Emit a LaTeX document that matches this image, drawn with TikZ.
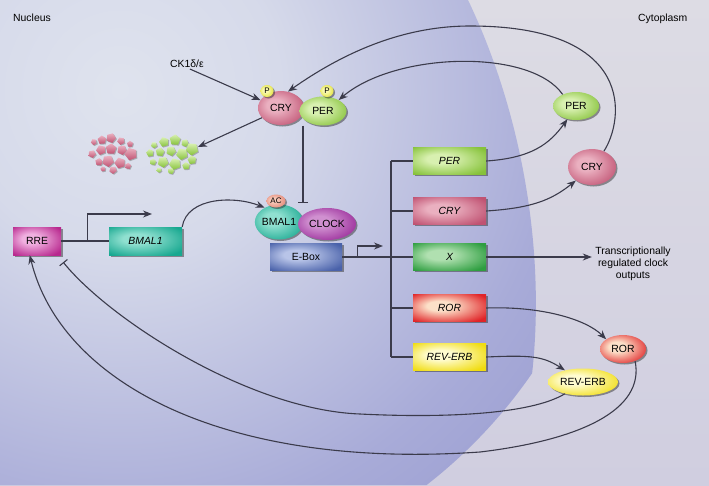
\documentclass[tikz,border=0pt]{standalone}
\usepackage{fontspec}
\setmainfont{Liberation Sans}
\usetikzlibrary{arrows.meta,shapes.geometric,shadows,calc}
\pgfdeclarelayer{bg}
\pgfsetlayers{bg,main}
\newcommand\myfs{\fontsize{10.4}{12.3}\selectfont}
\definecolor{lineC}{HTML}{3B3B4B}
\definecolor{pinkHL}{HTML}{EAB0C0}\definecolor{pinkB}{HTML}{C05272}
\definecolor{greenHL}{HTML}{D8F0B0}\definecolor{greenB}{HTML}{86C23A}
\definecolor{yelHL}{HTML}{FAFAB0}\definecolor{yelB}{HTML}{DEDE30}
\definecolor{acHL}{HTML}{F8C8B8}\definecolor{acB}{HTML}{E08070}
\definecolor{tealHL}{HTML}{90E0D0}\definecolor{tealB}{HTML}{18A890}
\definecolor{purpHL}{HTML}{D090D0}\definecolor{purpB}{HTML}{982898}
\definecolor{blueHL}{HTML}{B8C4E8}\definecolor{blueB}{HTML}{4A62AA}
\definecolor{magHL}{HTML}{F0B0E0}\definecolor{magB}{HTML}{B8288E}
\definecolor{xHL}{HTML}{B0E0B0}\definecolor{xB}{HTML}{2E9E40}
\definecolor{rorHL}{HTML}{FCE0C8}\definecolor{rorB}{HTML}{E02428}
\definecolor{revHL}{HTML}{FFFCD0}\definecolor{revB}{HTML}{F0DC10}
\definecolor{nucA}{HTML}{DFE3EE}\definecolor{nucM}{HTML}{D6DAEA}
\definecolor{nucB}{HTML}{A8ABD8}\definecolor{nucC}{HTML}{A2A5D5}
\definecolor{cytoTop}{HTML}{DDDCE4}\definecolor{cytoBot}{HTML}{D0CEE0}
\pgfdeclareradialshading[hlc,basec]{glossy}{\pgfqpoint{-8bp}{5bp}}{color(0bp)=(hlc); color(9bp)=(hlc); color(33bp)=(basec); color(50bp)=(basec)}
\pgfdeclareradialshading{nucsh}{\pgfpointorigin}{color(0bp)=(nucA); color(8bp)=(nucM); color(22bp)=(nucB); color(25bp)=(nucC); color(50bp)=(nucC)}
\tikzset{
  conn/.style={draw=lineC, line width=1.1pt},
  arr/.style={conn, -{Stealth[length=9pt,width=7pt]}},
  inh/.style={conn, -{Bar[width=10pt,line width=1.1pt]}},
  gl/.style 2 args={shade, shading=glossy, /utils/exec={\colorlet{hlc}{#1}\colorlet{basec}{#2}}},
  shad/.style={drop shadow={shadow xshift=1.5pt, shadow yshift=-1.5pt, fill=black!80, opacity=0.5}},
  gene/.style={rectangle, minimum width=73pt, minimum height=27pt, inner sep=0pt, shad, font=\myfs\itshape},
  prot/.style={ellipse, inner sep=0pt, shad},
  small/.style={font=\fontsize{8}{9}\selectfont},
}
\begin{document}
\begin{tikzpicture}[x=1pt,y=-1pt,font=\myfs]
\useasboundingbox (0,0) rectangle (709,485);
\begin{pgfonlayer}{bg}
  \shade[top color=cytoTop, bottom color=cytoBot] (0,0) rectangle (709,485);
  \begin{scope}
    \clip (0,0) -- (468,0) .. controls (535,140) and (560,330) .. (508,485) -- (0,485) -- cycle;
    \shade[shading=nucsh] (120,90) circle (500);
  \end{scope}
\end{pgfonlayer}

% labels
\node[anchor=base west, inner sep=0pt] (nuc) at (13,21.5) {Nucleus};
\node[anchor=base west, inner sep=0pt] (cyt) at (638,21.5) {Cytoplasm};
\node[inner sep=1pt] (ck) at (187,64) {CK1δ/ε};

% degraded fragments
\begin{scope}[shift={(113,152)}]
\foreach \dx/\dy/\s [count=\i] in {-19/-10/3.2,-11/-12/4.5,-2/-14/5,8/-11/3.9,17/-8/3.2,-21/2/3.9,-12/-2/5,-2/-3/5.6,9/-2/5,18/2/6.5,-14/10/3.9,-5/9/6,7/11/5.6,15/14/3.2,0/18/3.9,-10/17/2.6}{
  \fill[black!60, opacity=.45, shift={(\dx+0.9,\dy+0.9)}, rotate=\i*47] (0:\s) -- (72:\s) -- (144:\s) -- (216:\s) -- (288:\s) -- cycle;
  \shade[top color=pinkHL, bottom color=pinkB, shift={(\dx,\dy)}, rotate=\i*47] (0:\s) -- (72:\s) -- (144:\s) -- (216:\s) -- (288:\s) -- cycle;
}
\end{scope}
\begin{scope}[shift={(171,153)}]
\foreach \dx/\dy/\s [count=\i] in {-17/-8/3.2,-7/-11/5,4/-13/5.6,14/-10/3.9,21/-4/6.5,-21/0/3.9,-11/-1/4.5,0/-2/5,11/1/6,21/7/4.5,-18/9/3.2,-8/9/5.6,4/11/6,15/13/3.9,0/18/3.2,-12/17/2.6}{
  \fill[black!60, opacity=.45, shift={(\dx+0.9,\dy+0.9)}, rotate=\i*53] (0:\s) -- (72:\s) -- (144:\s) -- (216:\s) -- (288:\s) -- cycle;
  \shade[top color=greenHL, bottom color=greenB, shift={(\dx,\dy)}, rotate=\i*53] (0:\s) -- (72:\s) -- (144:\s) -- (216:\s) -- (288:\s) -- cycle;
}
\end{scope}

% nuclear proteins
\node[prot, gl={pinkHL}{pinkB}, minimum width=46pt, minimum height=34pt] (cryc) at (281,108) {CRY};
\node[prot, gl={greenHL}{greenB}, minimum width=47pt, minimum height=29pt] (perc) at (323,111) {PER};
\node[prot, gl={yelHL}{yelB}, minimum width=13pt, minimum height=12pt, small] (p1) at (267,91) {P};
\node[prot, gl={yelHL}{yelB}, minimum width=13pt, minimum height=12pt, small] (p2) at (327,91) {P};
\node[prot, gl={tealHL}{tealB}, minimum width=44pt, minimum height=35pt] (bmal) at (279,222) {BMAL1};
\node[prot, gl={purpHL}{purpB}, minimum width=58pt, minimum height=32pt] (clock) at (327,224) {CLOCK};
\node[prot, gl={acHL}{acB}, minimum width=19pt, minimum height=13pt, small] (ac) at (276,201) {AC};
\node[rectangle, shad, gl={blueHL}{blueB}, minimum width=72pt, minimum height=27pt, inner sep=0pt] (ebox) at (306,257) {E-Box};

% gene boxes
\node[rectangle, shad, gl={magHL}{magB}, minimum width=48pt, minimum height=28pt, inner sep=0pt] (rre) at (37,241) {RRE};
\node[gene, gl={tealHL}{tealB}, minimum height=28pt] (bmalbox) at (145.5,241) {BMAL1};
\node[gene, gl={greenHL}{greenB}] (perbox) at (449.5,161) {PER};
\node[gene, gl={pinkHL}{pinkB}] (crybox) at (449.5,211) {CRY};
\node[gene, gl={xHL}{xB}] (xbox) at (449.5,257) {X};
\node[gene, gl={rorHL}{rorB}] (rorbox) at (449.5,308) {ROR};
\node[gene, gl={revHL}{revB}] (revbox) at (449.5,357) {REV-ERB};

% cytoplasmic proteins
\node[prot, gl={greenHL}{greenB}, minimum width=46pt, minimum height=28pt] (perx) at (576,106) {PER};
\node[prot, gl={pinkHL}{pinkB}, minimum width=48pt, minimum height=36pt] (cryx) at (592,167) {CRY};
\node[prot, gl={rorHL}{rorB}, minimum width=46pt, minimum height=28pt] (rorx) at (623,349) {ROR};
\node[prot, gl={revHL}{revB}, minimum width=70pt, minimum height=27pt] (revx) at (583,382) {REV-ERB};

\node[align=center, font=\myfs] (out) at (633,264) {Transcriptionally\\regulated clock\\outputs};

% connectors
\draw[arr] (ck.-60) -- (cryc.159);
\coordinate (frag) at (198,147);
\draw[arr] (cryc.207) -- (frag);
\coordinate (inhend) at (303,203);
\draw[inh] (inhend |- perc.south) -- (inhend);

\coordinate (prom1) at (152,214);
\draw[conn] (rre.east) -- (bmalbox.west);
\draw[arr] ($(rre.east)!0.56!(bmalbox.west)$) |- (prom1);
\draw[arr] (bmalbox.north east) .. controls +(5,-30) and +(-30,-12) .. (bmal.135);

\coordinate (prom2) at (383,246);
\coordinate (busx) at (391,0);
\draw[conn] (ebox.east) -- (xbox.west);
\draw[arr] ($(ebox.east)+(15,0)$) |- (prom2);
\draw[conn] (busx |- perbox.west) -- (busx |- revbox.west);
\foreach \b in {perbox,crybox,rorbox,revbox} \draw[conn] (busx |- \b.west) -- (\b.west);

\draw[arr] (perbox.east) .. controls +(45,-3) and +(-18,25) .. (perx.237);
\draw[arr] (crybox.east) .. controls +(45,-3) and +(-25,20) .. (cryx.220);
\draw[arr] (perx.139) .. controls (530,48) and (395,52) .. (perc.35);
\draw[arr] (cryx.53) .. controls (624,120) and (637,26) .. (470,26) .. controls (400,26) and (340,55) .. (cryc.67);

\draw[arr] (xbox.east) -- (xbox.east -| out.west);
\draw[arr] (rorbox.east) .. controls +(55,-2) and +(-20,-20) .. (rorx.150);
\draw[arr] (revbox.east) .. controls +(45,-2) and +(-22,-14) .. (revx.147);

\draw[inh] (revx.213) .. controls (530,415) and (440,418) .. (360,414) .. controls (250,410) and (110,320) .. ($(rre.south east)+(2,7)$);
\draw[arr] (rorx.-45) .. controls (645,410) and (580,440) .. (480,452) .. controls (220,470) and (60,380) .. (rre.243);
\end{tikzpicture}
\end{document}
